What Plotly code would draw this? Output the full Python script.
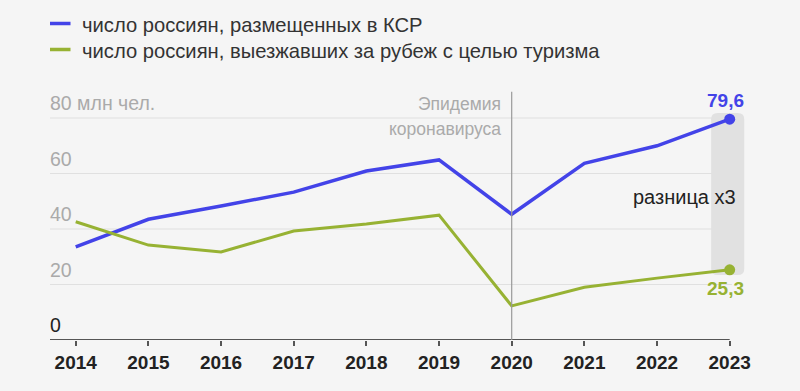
import plotly.graph_objects as go

years = [2014, 2015, 2016, 2017, 2018, 2019, 2020, 2021, 2022, 2023]
ksr = [33.6, 43.5, 48.3, 53.3, 60.9, 64.9, 45.3, 63.7, 70.0, 79.6]
abroad = [42.6, 34.2, 31.7, 39.3, 41.8, 45.0, 12.3, 19.0, 22.3, 25.3]
names = ["число россиян, размещенных в КСР",
         "число россиян, выезжавших за рубеж с целью туризма"]
colors = ["#4343E8", "#97B233"]
ytick_vals = [20, 40, 60, 80]
ytick_text = ["20", "40", "60", "80 млн чел."]
last_labels = ["79,6", "25,3"]

BG = "#f5f5f5"
FONT = "Liberation Sans, Arial, sans-serif"

fig = go.Figure()

# gridlines and baseline, stopping at the last year
for v in ytick_vals:
    fig.add_shape(type="line", xref="x", yref="y", x0=2013.6, x1=years[-1] + 0.03, y0=v, y1=v,
                  line=dict(color="#e0e0e0", width=1.2), layer="below")
fig.add_shape(type="line", xref="x", yref="y", x0=2013.6, x1=years[-1], y0=0, y1=0,
              line=dict(color="#555555", width=2))

for vals, c, w in [(ksr, colors[0], 3.5), (abroad, colors[1], 3)]:
    fig.add_trace(go.Scatter(x=years, y=vals, mode="lines", line=dict(color=c, width=w),
                             showlegend=False, hoverinfo="skip"))

# gray band between the two final values
x0, x1 = years[-1] - 0.255, years[-1] + 0.2
yb, yt = abroad[-1] - 1.9, ksr[-1] + 2.2
rx, ry = 0.09, 2.2
path = (f"M {x0+rx},{yb} L {x1-rx},{yb} Q {x1},{yb} {x1},{yb+ry} L {x1},{yt-ry} "
        f"Q {x1},{yt} {x1-rx},{yt} L {x0+rx},{yt} Q {x0},{yt} {x0},{yt-ry} "
        f"L {x0},{yb+ry} Q {x0},{yb} {x0+rx},{yb} Z")
fig.add_shape(type="path", path=path, xref="x", yref="y", fillcolor="#e1e1e1",
              line=dict(width=0), layer="below")

# endpoint markers
for vals, c in [(ksr, colors[0]), (abroad, colors[1])]:
    fig.add_trace(go.Scatter(x=[years[-1]], y=[vals[-1]], mode="markers",
                             marker=dict(color=c, size=11, line=dict(width=0)),
                             showlegend=False, hoverinfo="skip", cliponaxis=False))

# vertical line 2020
fig.add_shape(type="line", x0=2020, x1=2020, y0=0, y1=89.5, xref="x", yref="y",
              line=dict(color="#9a9a9a", width=1.2))
fig.add_annotation(x=2020, y=85.0, xref="x", yref="y", text="Эпидемия", showarrow=False,
                   xanchor="right", yanchor="middle", xshift=-9,
                   font=dict(family=FONT, size=17.5, color="#aaaaaa"))
fig.add_annotation(x=2020, y=76.0, xref="x", yref="y", text="коронавируса", showarrow=False,
                   xanchor="right", yanchor="middle", xshift=-9,
                   font=dict(family=FONT, size=17.5, color="#aaaaaa"))

# y labels
for v, t in zip(ytick_vals, ytick_text):
    fig.add_annotation(x=0, y=v, xref="paper", yref="y", text=t, showarrow=False,
                       xanchor="left", yanchor="bottom", yshift=2, xshift=-2,
                       font=dict(family=FONT, size=19.5, color="#aaaaaa"))
fig.add_annotation(x=0, y=0, xref="paper", yref="y", text="0", showarrow=False,
                   xanchor="left", yanchor="bottom", yshift=2, xshift=-2,
                   font=dict(family=FONT, size=19.5, color="#222222"))

# endpoint labels
fig.add_annotation(x=years[-1], y=ksr[-1], text=last_labels[0], showarrow=False,
                   yanchor="bottom", yshift=6, xshift=-4,
                   font=dict(family=FONT, size=19, color=colors[0], weight="bold"))
fig.add_annotation(x=years[-1], y=abroad[-1], text=last_labels[1], showarrow=False,
                   yanchor="top", yshift=-6, xshift=-4,
                   font=dict(family=FONT, size=19, color=colors[1], weight="bold"))

fig.add_annotation(x=years[-1], y=(ksr[-1] + abroad[-1]) / 2 - 1, text="разница x3", showarrow=False,
                   xanchor="right", xshift=8, font=dict(family=FONT, size=20, color="#222222"))

# manual legend
for i, (n, c) in enumerate(zip(names, colors)):
    ypx = 23.5 + 26 * i
    fig.add_annotation(x=0, y=0, xref="paper", yref="paper", text=n, showarrow=False,
                       xanchor="left", yanchor="middle", xshift=30, yshift=340 - ypx - 1,
                       font=dict(family=FONT, size=20.2, color="#333333"))
    fig.add_annotation(x=0, y=0, xref="paper", yref="paper", text="", showarrow=True,
                       ax=22, ay=0, axref="pixel", ayref="pixel",
                       arrowhead=0, arrowwidth=3.5, arrowcolor=c, standoff=0, startstandoff=0,
                       yshift=340 - ypx, xshift=0)

fig.update_layout(
    width=800, height=391, paper_bgcolor=BG, plot_bgcolor=BG,
    margin=dict(l=50, r=48, t=85, b=51),
    xaxis=dict(range=[2013.646, 2023.307], tickvals=years, ticktext=[str(y) for y in years],
               showgrid=False, zeroline=False, showline=False,
               ticks="outside", ticklen=5, tickwidth=1.5, tickcolor="#555555", automargin=False,
               tickfont=dict(family=FONT, size=19, color="#222222", weight="bold")),
    yaxis=dict(range=[0, 91.9], showticklabels=False, showgrid=False,
               zeroline=False, showline=False),
    showlegend=False,
)

fig.write_html("out.html", config={"displayModeBar": False},
               post_script="document.body.style.margin='0';document.body.style.background='#f5f5f5';")
